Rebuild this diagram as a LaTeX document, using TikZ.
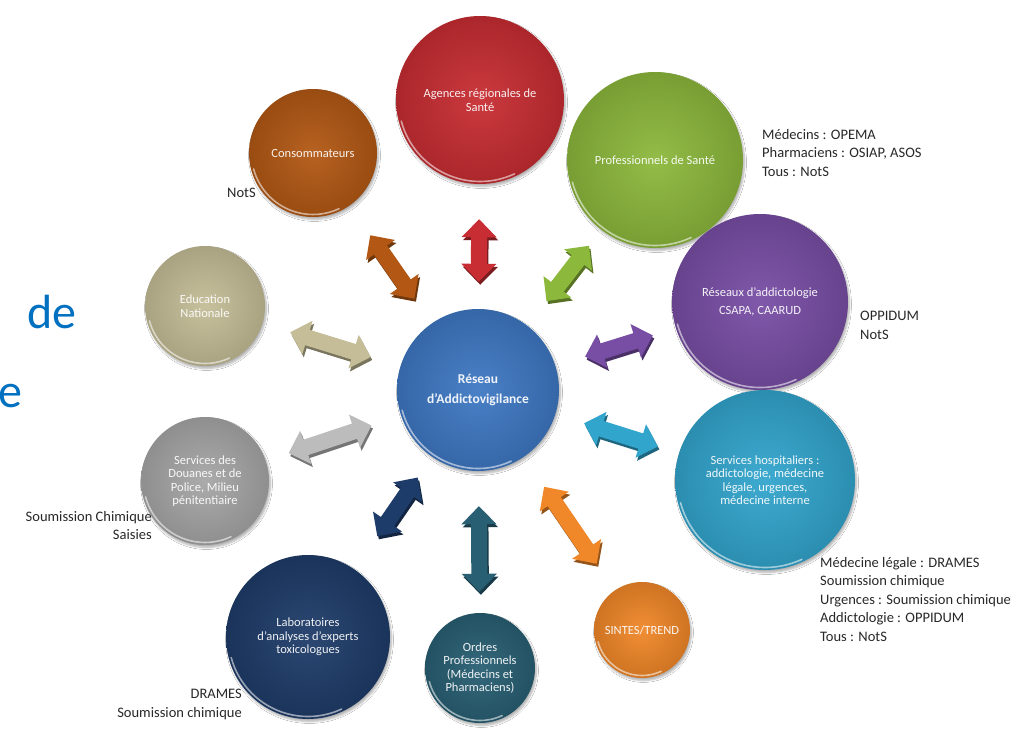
\documentclass[tikz,border=0pt]{standalone}
\usepackage{fontspec}
\setmainfont{Carlito}
\usetikzlibrary{arrows.meta,shadows.blur,calc}

% palette
\definecolor{cRed}{RGB}{199,45,50}
\definecolor{cGreen}{RGB}{140,184,60}
\definecolor{cBrown}{RGB}{178,88,20}
\definecolor{cPurple}{RGB}{120,78,165}
\definecolor{cBeige}{RGB}{196,189,151}
\definecolor{cGrey}{RGB}{166,166,166}
\definecolor{cCyan}{RGB}{50,165,205}
\definecolor{cNavy}{RGB}{30,60,105}
\definecolor{cTeal}{RGB}{40,95,115}
\definecolor{cOrange}{RGB}{240,135,40}
\definecolor{cHub}{RGB}{62,120,195}
\definecolor{cTitle}{RGB}{0,112,192}
\definecolor{cNote}{RGB}{40,40,40}

\tikzset{
  orb/.style={circle, inner sep=0pt, align=center, text=white, text opacity=.92,
    font=\fontsize{12.5}{13.5}\selectfont,
    blur shadow={shadow xshift=1.5pt, shadow yshift=-2.5pt, shadow opacity=30, shadow blur steps=6}},
  linkline/.style={line width=16pt, {Triangle[length=18pt,width=34pt]}-{Triangle[length=18pt,width=34pt]}},
  note/.style={inner sep=0pt, align=left, text=cNote, font=\fontsize{14.5}{18.5}\selectfont},
  title/.style={anchor=base west, inner sep=0pt, text=cTitle, font=\fontsize{48}{48}\selectfont},
}

% a glossy disc: name, x, y (downwards), radius, colour, text
\newcommand\orb[6]{%
  \node[orb, minimum size={2*#4 pt}, shade, inner color=#5!94!white, outer color=#5!86!black] (#1) at (#2,-#3) {#6};
  \draw[white, opacity=.55, line width=1.6pt, line cap=round]
    (#1.center) ++(195:#4-2.5) arc[start angle=195, end angle=295, radius=#4-2.5];
}

% a two-headed block arrow between two discs, with its darker side face
\newcommand\conn[5]{% from, to, colour, gap at start, gap at end
  \draw[linkline, draw=#3!62!black, shorten <=#4pt, shorten >=#5pt,
        transform canvas={xshift=1.5pt,yshift=-3pt}] (#1) -- (#2);
  \draw[linkline, draw=#3, shorten <=#4pt, shorten >=#5pt] (#1) -- (#2);
}

\begin{document}
\begin{tikzpicture}[x=1pt,y=1pt]
\fill[white] (0,0) rectangle (1023,-739);
\useasboundingbox (0,0) rectangle (1023,-739);

% partial slide title on the left
\node[title] (titleA) at (27,-328) {de};
\node[title] (titleB) at (-2,-407) {e};

% discs
\orb{ars}{480}{100}{84}{cRed}{Agences régionales de\\Santé}
\orb{prof}{655}{160}{88}{cGreen}{Professionnels de Santé}
\orb{cons}{313}{153}{64}{cBrown}{Consommateurs}
\orb{reseaux}{760}{302}{88}{cPurple}{Réseaux d’addictologie\\[5pt]CSAPA, CAARUD}
\orb{educ}{205}{306}{60}{cBeige}{Education\\Nationale}
\orb{douanes}{205}{481}{64}{cGrey}{Services des\\Douanes et de\\Police, Milieu\\pénitentiaire}
\orb{hosp}{765}{480}{90}{cCyan}{Services hospitaliers :\\addictologie, médecine\\légale, urgences,\\médecine interne}
\orb{labo}{308}{637}{82}{cNavy}{Laboratoires\\d’analyses d’experts\\toxicologues}
\orb{ordres}{480}{668}{55}{cTeal}{Ordres\\Professionnels\\(Médecins et\\Pharmaciens)}
\orb{sintes}{642}{630}{48}{cOrange}{SINTES/TREND}
\node[orb, minimum size=162pt, shade, inner color=cHub!94!white, outer color=cHub!86!black,
      font=\fontsize{13.5}{20}\selectfont\bfseries] (hub) at (478,-390) {Réseau\\d’Addictovigilance};
\draw[white, opacity=.55, line width=1.6pt, line cap=round]
  (hub.center) ++(195:78.5) arc[start angle=195, end angle=295, radius=78.5];

% exchanges with the network
\conn{hub}{ars}{cRed}{27}{35}
\conn{hub}{cons}{cBrown}{30}{36}
\conn{hub}{prof}{cGreen}{31}{20}
\conn{hub}{reseaux}{cPurple}{31}{24}
\conn{hub}{educ}{cBeige}{31}{29}
\conn{hub}{douanes}{cGrey!75!white}{31}{24}
\conn{hub}{hosp}{cCyan}{30}{22}
\conn{hub}{labo}{cNavy}{25}{40}
\conn{hub}{ordres}{cTeal}{35}{21}
\conn{hub}{sintes}{cOrange}{36}{32}

% data sources per partner
\node[note, anchor=north west] (profnote) at (762,-129) {Médecins : OPEMA\\Pharmaciens : OSIAP, ASOS\\Tous : NotS};
\node[note, anchor=north west] (consnote) at (227,-188) {NotS};
\node[note, anchor=north west] (resnote) at (860,-311) {OPPIDUM\\NotS};
\node[note, anchor=north east, align=right] (douanote) at (152,-511) {Soumission Chimique\\Saisies};
\node[note, anchor=north west] (hospnote) at (820,-557) {Médecine légale : DRAMES\\Soumission chimique\\Urgences : Soumission chimique\\Addictologie : OPPIDUM\\Tous : NotS};
\node[note, anchor=north east, align=right] (labnote) at (242,-689) {DRAMES\\Soumission chimique};
\end{tikzpicture}
\end{document}
